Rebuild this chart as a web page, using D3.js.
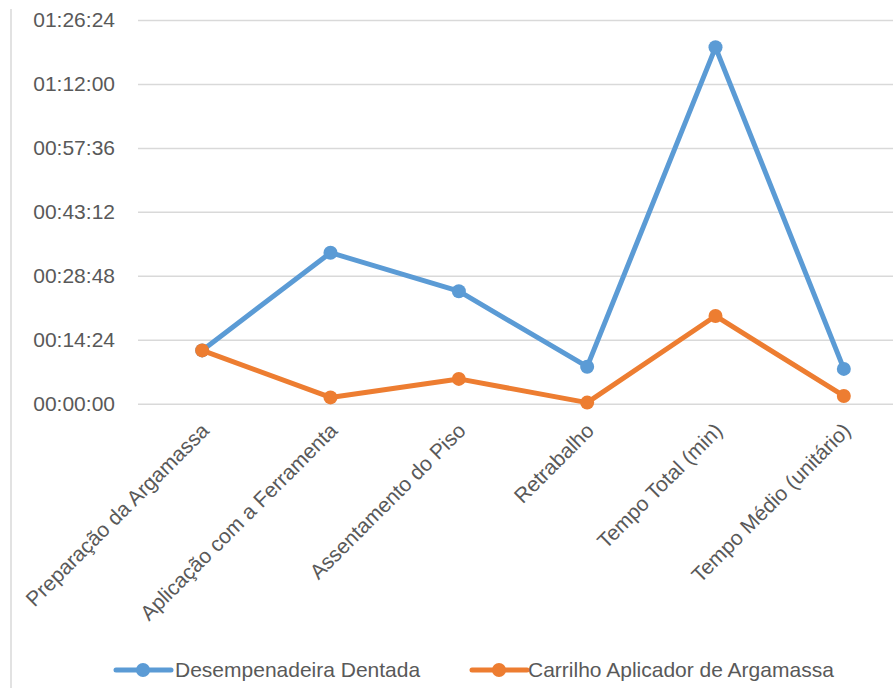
<!DOCTYPE html>
<html>
<head>
<meta charset="utf-8">
<script src="https://cdn.jsdelivr.net/npm/d3@7"></script>
<style>
  html, body { margin: 0; padding: 0; background: #ffffff; }
  svg { display: block; font-family: "Liberation Sans", Arial, sans-serif; }
</style>
</head>
<body>
<svg id="chart" width="893" height="688"></svg>
<script>
const categories = [
  "Preparação da Argamassa",
  "Aplicação com a Ferramenta",
  "Assentamento do Piso",
  "Retrabalho",
  "Tempo Total (min)",
  "Tempo Médio (unitário)"
];
const seriesNames = ["Desempenadeira Dentada", "Carrilho Aplicador de Argamassa"];
const desempenadeira = ["00:12:00", "00:34:00", "00:25:20", "00:08:20", "01:20:15", "00:07:50"];
const carrilho = ["00:12:00", "00:01:25", "00:05:35", "00:00:15", "00:19:45", "00:01:45"];
const yTickLabels = ["00:00:00", "00:14:24", "00:28:48", "00:43:12", "00:57:36", "01:12:00", "01:26:24"];
const colors = ["#5B9BD5", "#ED7D31"];

const toSec = s => { const [h, m, sec] = s.split(":").map(Number); return h * 3600 + m * 60 + sec; };

const svg = d3.select("#chart");
const plot = { left: 138, right: 908, top: 20, bottom: 403.7 };

const x = d3.scaleBand().domain(categories).range([plot.left, plot.right]);
const cx = c => x(c) + x.bandwidth() / 2;
const y = d3.scaleLinear().domain([0, toSec(yTickLabels[yTickLabels.length - 1])]).range([plot.bottom, plot.top]);

// chart area left border
svg.append("line").attr("x1", 11).attr("x2", 11).attr("y1", 9).attr("y2", 688)
  .attr("stroke", "#D9D9D9").attr("stroke-width", 1.5);

// y axis with gridlines
const yAxis = d3.axisLeft(y)
  .tickValues(yTickLabels.map(toSec))
  .tickFormat((d, i) => yTickLabels[i])
  .tickSize(-(plot.right - plot.left))
  .tickPadding(23);
const gy = svg.append("g").attr("transform", `translate(${plot.left},0)`).call(yAxis);
gy.select(".domain").remove();
gy.selectAll(".tick line").attr("stroke", "#D9D9D9").attr("stroke-width", 1.5);
gy.selectAll(".tick text").attr("fill", "#595959").style("font-size", "21px")
  .style("font-family", "'Liberation Sans', Arial, sans-serif");

// x labels
const xAxis = d3.axisBottom(x).tickSize(0).tickPadding(0);
const gx = svg.append("g").attr("transform", `translate(0,${plot.bottom})`).call(xAxis);
gx.select(".domain").remove();
gx.selectAll(".tick text")
  .attr("fill", "#595959")
  .style("font-size", "21px")
  .style("font-family", "'Liberation Sans', Arial, sans-serif")
  .attr("text-anchor", "end")
  .attr("y", 0).attr("dy", "0.35em")
  .attr("transform", "translate(3,23) rotate(-45)");

// series
const series = [desempenadeira, carrilho];
const line = d3.line().x(d => cx(d.c)).y(d => y(d.v));
series.forEach((vals, si) => {
  const pts = vals.map((v, i) => ({ c: categories[i], v: toSec(v) }));
  svg.append("path").datum(pts).attr("d", line)
    .attr("fill", "none").attr("stroke", colors[si]).attr("stroke-width", 5)
    .attr("stroke-linejoin", "round").attr("stroke-linecap", "round");
  svg.append("g").selectAll("circle").data(pts).join("circle")
    .attr("cx", d => cx(d.c)).attr("cy", d => y(d.v)).attr("r", 7)
    .attr("fill", colors[si]);
});

// legend
const legendItems = [{ x: 116, tx: 175 }, { x: 472, tx: 528 }];
const legendY = 670;
legendItems.forEach((it, i) => {
  const g = svg.append("g");
  g.append("line").attr("x1", it.x).attr("x2", it.x + 55).attr("y1", legendY).attr("y2", legendY)
    .attr("stroke", colors[i]).attr("stroke-width", 5).attr("stroke-linecap", "round");
  g.append("circle").attr("cx", it.x + 27).attr("cy", legendY).attr("r", 7).attr("fill", colors[i]);
  g.append("text").attr("x", it.tx).attr("y", legendY).attr("dy", "0.35em")
    .attr("fill", "#595959").style("font-size", "21px").text(seriesNames[i]);
});
</script>
</body>
</html>
